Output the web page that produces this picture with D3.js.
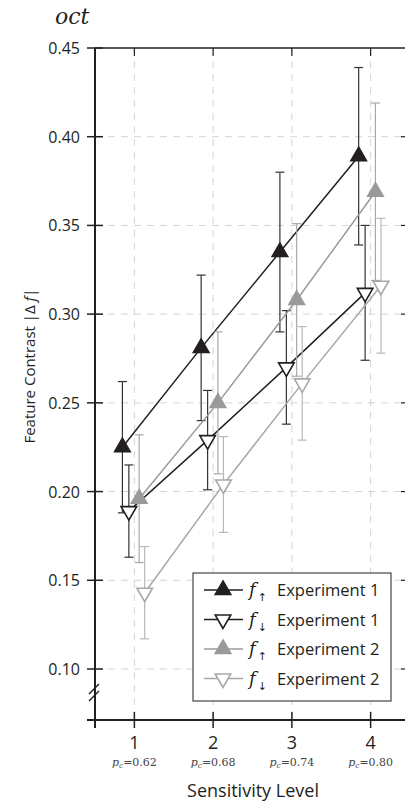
<!DOCTYPE html>
<html>
<head>
<meta charset="utf-8">
<script src="https://cdn.jsdelivr.net/npm/d3@7"></script>
<style>
  body { margin: 0; background: #fff; }
  svg { display: block; }
</style>
</head>
<body>
<svg id="chart" width="405" height="804"></svg>
<script>
const width = 405;
const height = 804;

// Data
const levels = [1, 2, 3, 4];
const pcLabels = ["0.62", "0.68", "0.74", "0.80"];
const yTicks = [0.10, 0.15, 0.20, 0.25, 0.30, 0.35, 0.40, 0.45];

const exp1Up = [0.225, 0.281, 0.335, 0.389];
const exp1UpErr = [0.037, 0.041, 0.045, 0.050];
const exp1Down = [0.189, 0.229, 0.270, 0.312];
const exp1DownErr = [0.026, 0.028, 0.032, 0.038];
const exp2Up = [0.196, 0.250, 0.308, 0.369];
const exp2UpErr = [0.036, 0.040, 0.043, 0.050];
const exp2Down = [0.143, 0.204, 0.261, 0.316];
const exp2DownErr = [0.026, 0.027, 0.032, 0.038];

const series = [
    { name: "Experiment 1", dir: "up", values: exp1Up, err: exp1UpErr, offset: -0.152,
      line: "#231f20", bar: "#333", fill: "#231f20", stroke: "#231f20" },
    { name: "Experiment 1", dir: "down", values: exp1Down, err: exp1DownErr, offset: -0.07,
      line: "#231f20", bar: "#333", fill: "#fff", stroke: "#231f20" },
    { name: "Experiment 2", dir: "up", values: exp2Up, err: exp2UpErr, offset: 0.061,
      line: "#9a9a9a", bar: "#a8a8a8", fill: "#9a9a9a", stroke: "#9a9a9a" },
    { name: "Experiment 2", dir: "down", values: exp2Down, err: exp2DownErr, offset: 0.131,
      line: "#a8a8a8", bar: "#b8b8b8", fill: "#fff", stroke: "#a8a8a8" }
];

const font = "'Open Sans', 'Noto Sans', sans-serif";
const serif = "'DejaVu Serif', 'Liberation Serif', serif";

const plotLeft = 95, plotRight = 410, plotTop = 48, axisY = 720;

const x = d3.scaleLinear().domain([0.5, 4.5]).range([plotLeft, plotRight]);
const y = d3.scaleLinear().domain([0.10, 0.45]).range([669, plotTop]);

const svg = d3.select("#chart");

// grid
const grid = svg.append("g").attr("stroke", "#d4d4d4").attr("stroke-width", 1)
    .attr("stroke-dasharray", "7,6");
grid.selectAll("line.h").data(yTicks.slice(0, -1)).enter().append("line")
    .attr("x1", plotLeft).attr("x2", plotRight)
    .attr("y1", d => y(d)).attr("y2", d => y(d));
grid.selectAll("line.v").data(levels).enter().append("line")
    .attr("x1", d => x(d)).attr("x2", d => x(d))
    .attr("y1", plotTop).attr("y2", axisY);

// frame
const frame = svg.append("g").attr("stroke", "#231f20").attr("fill", "none");
frame.append("line").attr("x1", plotLeft).attr("x2", plotRight).attr("y1", plotTop).attr("y2", plotTop)
    .attr("stroke-width", 1.5);
frame.append("line").attr("x1", plotLeft).attr("x2", plotLeft).attr("y1", plotTop).attr("y2", axisY + 8)
    .attr("stroke-width", 2);
frame.append("line").attr("x1", plotLeft - 8).attr("x2", plotRight).attr("y1", axisY).attr("y2", axisY)
    .attr("stroke-width", 2);

// axis break marks
[0, 7].forEach(dy => {
    frame.append("line")
        .attr("x1", plotLeft - 6).attr("y1", 694 + dy)
        .attr("x2", plotLeft + 4).attr("y2", 684 + dy)
        .attr("stroke-width", 1.5);
});

// y ticks (crossing the spine) + right side ticks
frame.selectAll("line.yt").data(yTicks).enter().append("line")
    .attr("x1", plotLeft - 8).attr("x2", plotLeft + 8)
    .attr("y1", d => y(d)).attr("y2", d => y(d)).attr("stroke-width", 1.5);
frame.selectAll("line.yr").data(yTicks.slice(0, -1)).enter().append("line")
    .attr("x1", plotRight - 9).attr("x2", plotRight)
    .attr("y1", d => y(d)).attr("y2", d => y(d)).attr("stroke-width", 1.2);

// x ticks (bottom crossing, top inward)
frame.selectAll("line.xb").data(levels).enter().append("line")
    .attr("x1", d => x(d)).attr("x2", d => x(d))
    .attr("y1", axisY - 8).attr("y2", axisY + 8).attr("stroke-width", 1.5);
frame.selectAll("line.xt").data(levels).enter().append("line")
    .attr("x1", d => x(d)).attr("x2", d => x(d))
    .attr("y1", plotTop).attr("y2", plotTop + 8).attr("stroke-width", 1.2);

// y tick labels
svg.append("g").selectAll("text").data(yTicks).enter().append("text")
    .attr("x", 80).attr("y", d => y(d) + 6)
    .attr("text-anchor", "end")
    .attr("font-family", font).attr("font-size", 16).attr("fill", "#231f20")
    .text(d => d.toFixed(2));

// x tick labels
svg.append("g").selectAll("text").data(levels).enter().append("text")
    .attr("x", d => x(d)).attr("y", 749)
    .attr("text-anchor", "middle")
    .attr("font-family", font).attr("font-size", 18).attr("fill", "#231f20")
    .text(d => d);

const pc = svg.append("g").selectAll("text").data(levels).enter().append("text")
    .attr("x", d => x(d)).attr("y", 766)
    .attr("text-anchor", "middle")
    .attr("font-family", serif).attr("font-size", 11).attr("fill", "#444");
pc.append("tspan").attr("font-style", "italic").text("p");
pc.append("tspan").attr("font-style", "italic").attr("font-size", 7.5).attr("dy", 2).text("c");
pc.append("tspan").attr("dy", -2).text((d, i) => "=" + pcLabels[i]);

// axis titles
svg.append("text")
    .attr("x", 253).attr("y", 797)
    .attr("text-anchor", "middle")
    .attr("font-family", font).attr("font-size", 18).attr("fill", "#231f20")
    .text("Sensitivity Level");

const yl = svg.append("text")
    .attr("transform", "translate(35,366) rotate(-90)")
    .attr("text-anchor", "middle")
    .attr("font-family", font).attr("font-size", 15).attr("fill", "#231f20");
yl.append("tspan").text("Feature Contrast |Δ ");
yl.append("tspan").attr("font-style", "italic").text("f");
yl.append("tspan").text("|");

svg.append("text")
    .attr("x", 55).attr("y", 24)
    .attr("font-family", serif).attr("font-style", "italic")
    .attr("font-size", 22).attr("fill", "#231f20")
    .text("oct");

// series
const tri = d3.symbol().type(d3.symbolTriangle).size(105);
const lineGen = d3.line().x(d => x(d.lv)).y(d => y(d.v));

series.forEach(s => {
    const pts = s.values.map((v, i) => ({ lv: levels[i] + s.offset, v: v, e: s.err[i] }));
    const g = svg.append("g");
    g.append("path").datum(pts)
        .attr("d", lineGen).attr("fill", "none")
        .attr("stroke", s.line).attr("stroke-width", 1.5);
    const eb = g.selectAll("g.eb").data(pts).enter().append("g")
        .attr("stroke", s.bar).attr("stroke-width", 1.2);
    eb.append("line")
        .attr("x1", d => x(d.lv)).attr("x2", d => x(d.lv))
        .attr("y1", d => y(d.v + d.e)).attr("y2", d => y(d.v - d.e));
    eb.append("line")
        .attr("x1", d => x(d.lv) - 4.5).attr("x2", d => x(d.lv) + 4.5)
        .attr("y1", d => y(d.v + d.e)).attr("y2", d => y(d.v + d.e));
    eb.append("line")
        .attr("x1", d => x(d.lv) - 4.5).attr("x2", d => x(d.lv) + 4.5)
        .attr("y1", d => y(d.v - d.e)).attr("y2", d => y(d.v - d.e));
    g.selectAll("path.m").data(pts).enter().append("path")
        .attr("d", tri)
        .attr("transform", d => `translate(${x(d.lv)},${y(d.v)}) rotate(${s.dir === "up" ? 0 : 180})`)
        .attr("fill", s.fill).attr("stroke", s.stroke).attr("stroke-width", 1.6);
});

// legend
const legend = svg.append("g").attr("transform", "translate(193,573)");
legend.append("rect").attr("width", 198).attr("height", 128)
    .attr("fill", "#fff").attr("stroke", "#444").attr("stroke-width", 1.2);
const rows = legend.selectAll("g.row").data(series).enter().append("g")
    .attr("transform", (d, i) => `translate(0,${17 + i * 29.5})`);
rows.append("line").attr("x1", 11).attr("x2", 50).attr("y1", 0).attr("y2", 0)
    .attr("stroke", d => d.line).attr("stroke-width", 1.5);
rows.append("path").attr("d", tri)
    .attr("transform", d => `translate(30,0) rotate(${d.dir === "up" ? 0 : 180})`)
    .attr("fill", d => d.fill).attr("stroke", d => d.stroke).attr("stroke-width", 1.6);
const lt = rows.append("text").attr("x", 56).attr("y", 6)
    .attr("font-family", font).attr("font-size", 16.5).attr("fill", "#231f20");
lt.append("tspan").attr("font-style", "italic").attr("font-family", serif).attr("font-size", 18).text("f");
lt.append("tspan").attr("font-family", "'DejaVu Sans', sans-serif").attr("fill", "#231f20")
    .attr("font-size", 11).attr("dx", 2).attr("dy", 5)
    .text(d => d.dir === "up" ? "\u2191" : "\u2193");
lt.append("tspan").attr("x", 84).attr("dy", -5).text(d => d.name);
</script>
</body>
</html>
